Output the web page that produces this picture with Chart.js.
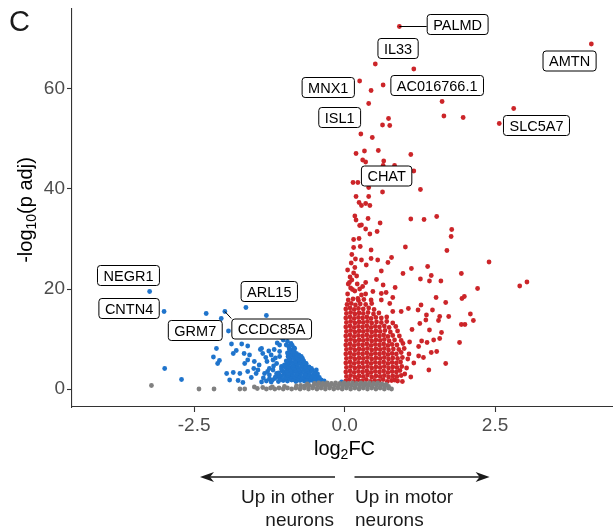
<!DOCTYPE html>
<html>
<head>
<meta charset="utf-8">
<script src="https://cdn.jsdelivr.net/npm/chart.js@4.4.0/dist/chart.umd.min.js"></script>
<style>
  html, body { margin: 0; padding: 0; background: #fff; }
</style>
</head>
<body>
<canvas id="volcano" width="613" height="527"></canvas>
<script>
const xTicks = [-2.5, 0, 2.5];
const yTicks = [0, 20, 40, 60];

// log2FC, -log10(p adj)
const upMotor = [
  [0.91,72.5],[4.10,69.0],[0.51,65.0],[1.15,64.0],[0.25,61.6],[0.64,60.8],[0.44,59.7],[0.40,57.1],
  [1.62,57.5],[2.81,56.1],[1.65,54.6],[1.97,54.3],[2.57,53.1],[0.73,54.1],[0.63,52.8],[0.75,52.7],
  [0.27,51.0],[0.46,50.3],[0.19,47.1],[0.33,47.6],[0.56,47.7],[1.10,46.9],[0.30,45.8],[0.35,45.4],
  [0.65,45.6],[0.64,44.7],[0.83,44.7],[1.15,43.6],[0.14,41.3],[0.22,41.3],[0.40,40.3],[0.63,39.4],
  [1.26,39.9],[0.19,38.5],[0.40,38.5],[0.24,37.3],[0.28,36.7],[0.35,37.1],[0.42,36.7],[0.17,34.6],
  [0.19,33.8],[0.39,34.1],[0.59,33.2],[1.10,34.0],[1.32,33.9],[1.53,34.5],[0.25,32.7],[0.28,32.8],
  [0.35,32.0],[0.42,31.0],[0.54,31.5],[1.78,31.9],[1.77,30.5],[0.15,29.9],[0.24,30.1],[0.26,28.5],
  [0.15,28.3],[1.01,28.4],[0.44,27.8],[1.70,27.7],[2.40,25.4],[2.91,20.6],[3.03,21.4],[0.12,26.9],
  [0.28,25.8],[0.44,26.1],[0.55,25.8],[0.78,26.3],[0.72,25.3],[0.36,24.8],[0.17,24.3],[0.61,23.6],
  [1.11,24.1],[1.38,24.5],[1.94,23.1],[0.97,23.1],[0.20,22.6],[0.12,21.8],[0.08,21.3],[0.35,21.3],
  [0.53,21.9],[0.64,20.8],[0.84,20.3],[1.26,22.0],[1.41,21.6],[1.44,22.7],[1.60,21.6],[2.21,20.1],
  [0.13,19.9],[0.30,20.5],[0.47,19.5],[0.61,19.1],[0.69,19.3],[0.80,18.3],[0.35,19.0],[0.22,18.1],
  [0.44,17.8],[0.61,17.8],[0.75,17.1],[1.27,16.8],[1.52,18.3],[1.68,17.3],[1.95,18.1],[1.99,18.5],
  [1.46,15.8],[1.22,15.8],[1.06,16.1],[0.94,15.5],[0.80,15.5],[2.09,15.0],[2.14,13.7],[1.94,12.9],
  [2.00,12.9],[1.73,14.5],[1.58,14.5],[1.56,13.7],[1.36,14.8],[1.35,13.8],[1.25,13.1],[1.41,11.8],
  [1.61,11.3],[1.58,10.1],[1.48,9.8],[1.37,9.3],[1.91,9.3],[1.28,9.6],[1.23,8.5],[1.53,7.5],
  [1.44,7.3],[1.31,6.3],[1.23,6.6],[1.68,5.1],[1.40,3.8],[1.00,3.0],[0.96,1.5],[0.83,1.8],
  [0.05,19.0],[0.10,20.2],[0.06,21.0],[0.17,19.6],[0.25,20.0],[0.09,22.4],[0.15,23.2],[0.21,21.0],
  [0.28,18.8],[0.05,23.8],[0.11,25.2],[0.18,26.0],[1.12,11.9],[1.08,9.4],[1.15,5.2],[1.10,2.4],
  [0.02,1.6],[0.08,1.9],[0.15,1.5],[0.22,1.8],[0.29,1.6],[0.36,1.9],[0.43,1.5],[0.50,1.7],[0.57,1.6],[0.64,1.9],[0.71,1.5],[0.78,1.7],[0.88,1.6],
  [0.03,2.5],[0.10,2.7],[0.17,2.4],[0.24,2.6],[0.31,2.5],[0.38,2.8],[0.45,2.4],[0.52,2.6],[0.59,2.5],[0.66,2.7],[0.73,2.4],[0.80,2.6],[0.87,2.5],[0.94,2.7],
  [0.02,3.4],[0.09,3.6],[0.16,3.3],[0.23,3.5],[0.30,3.4],[0.37,3.6],[0.44,3.3],[0.51,3.5],[0.58,3.4],[0.65,3.6],[0.72,3.3],[0.79,3.5],[0.86,3.4],[0.92,3.7],
  [0.03,4.3],[0.10,4.5],[0.17,4.2],[0.24,4.4],[0.31,4.3],[0.38,4.5],[0.45,4.2],[0.52,4.4],[0.59,4.3],[0.66,4.5],[0.73,4.2],[0.80,4.4],[0.87,4.3],[0.95,4.5],[1.03,4.2],
  [0.02,5.2],[0.09,5.4],[0.16,5.1],[0.23,5.3],[0.30,5.2],[0.37,5.4],[0.44,5.1],[0.51,5.3],[0.58,5.2],[0.65,5.4],[0.72,5.1],[0.79,5.3],[0.86,5.2],[0.93,5.4],
  [0.03,6.1],[0.10,6.3],[0.17,6.0],[0.24,6.2],[0.31,6.1],[0.38,6.3],[0.45,6.0],[0.52,6.2],[0.59,6.1],[0.66,6.3],[0.73,6.0],[0.80,6.2],[0.88,6.1],[0.96,6.3],[1.05,6.0],
  [0.02,7.0],[0.09,7.2],[0.16,6.9],[0.23,7.1],[0.30,7.0],[0.37,7.2],[0.44,6.9],[0.51,7.1],[0.58,7.0],[0.65,7.2],[0.72,6.9],[0.79,7.1],[0.86,7.0],[0.94,7.3],[1.07,7.0],
  [0.03,7.9],[0.10,8.1],[0.17,7.8],[0.24,8.0],[0.31,7.9],[0.38,8.1],[0.45,7.8],[0.52,8.0],[0.59,7.9],[0.66,8.1],[0.73,7.8],[0.81,8.0],[0.90,7.9],[0.99,8.1],
  [0.02,8.8],[0.09,9.0],[0.16,8.7],[0.23,8.9],[0.30,8.8],[0.37,9.0],[0.44,8.7],[0.51,8.9],[0.58,8.8],[0.65,9.0],[0.72,8.7],[0.79,8.9],[0.87,8.8],[0.97,9.1],
  [0.03,9.7],[0.10,9.9],[0.17,9.6],[0.24,9.8],[0.31,9.7],[0.38,9.9],[0.45,9.6],[0.52,9.8],[0.59,9.7],[0.66,9.9],[0.74,9.6],[0.83,9.8],[0.94,9.7],
  [0.02,10.6],[0.09,10.8],[0.16,10.5],[0.23,10.7],[0.30,10.6],[0.37,10.8],[0.44,10.5],[0.51,10.7],[0.58,10.6],[0.65,10.8],[0.72,10.5],[0.80,10.7],[0.91,10.6],
  [0.03,11.5],[0.10,11.7],[0.17,11.4],[0.24,11.6],[0.31,11.5],[0.38,11.7],[0.45,11.4],[0.52,11.6],[0.59,11.5],[0.67,11.7],[0.76,11.4],[0.88,11.6],
  [0.02,12.4],[0.09,12.6],[0.16,12.3],[0.23,12.5],[0.30,12.4],[0.37,12.6],[0.44,12.3],[0.51,12.5],[0.58,12.4],[0.66,12.6],[0.74,12.3],[0.85,12.5],
  [0.03,13.3],[0.10,13.5],[0.17,13.2],[0.24,13.4],[0.31,13.3],[0.38,13.5],[0.45,13.2],[0.53,13.4],[0.61,13.3],[0.70,13.5],[0.80,13.2],
  [0.02,14.2],[0.09,14.4],[0.16,14.1],[0.23,14.3],[0.30,14.2],[0.37,14.4],[0.44,14.1],[0.52,14.3],[0.61,14.2],[0.70,14.4],
  [0.03,15.1],[0.10,15.3],[0.17,15.0],[0.24,15.2],[0.31,15.1],[0.39,15.3],[0.48,15.0],[0.57,15.2],
  [0.02,16.0],[0.09,16.2],[0.16,15.9],[0.23,16.1],[0.31,16.0],[0.40,16.2],[0.49,15.9],
  [0.04,16.9],[0.11,17.1],[0.18,16.8],[0.26,17.0],[0.35,16.9],[0.45,17.1],
  [0.06,17.8],[0.14,18.0],[0.23,17.7],[0.32,17.9]
];

const upOther = [
  [-3.24,19.5],[-3.00,15.5],[-2.30,15.1],[-1.99,15.5],[-2.05,14.1],[-1.64,16.3],[-1.30,14.7],[-1.93,11.6],
  [-2.99,4.1],[-2.71,1.9],[-2.13,8.1],[-2.18,6.4],[-2.11,5.1],[-1.88,9.0],[-1.71,9.0],[-1.61,8.6],
  [-1.80,7.7],[-1.67,7.1],[-1.85,7.1],[-1.58,6.8],[-2.08,5.7],[-1.61,5.8],[-1.40,7.9],[-1.36,7.1],
  [-1.31,6.3],[-1.29,5.5],[-1.42,4.8],[-1.51,4.1],[-1.61,3.5],[-1.74,3.1],[-1.85,3.3],[-1.96,3.1],
  [-1.91,1.8],[-1.77,1.7],[-1.69,1.3],[-1.55,2.3],[-1.47,3.1],[-1.08,8.8],[-1.02,9.8],[-0.97,10.6],
  [-0.89,9.1],[-0.83,8.1],[-1.08,7.5],[-0.94,6.5],[-1.13,5.1],[-1.05,4.5],[-1.19,3.8],[-1.25,2.8],
  [-1.13,2.5],[-1.38,8.1],[-1.22,6.8],[-1.19,5.8],[-1.08,6.5],[-0.97,8.8],[-0.86,7.8],[-0.80,6.8],
  [-0.75,5.5],[-0.69,4.5],[-0.64,5.1],[-0.58,3.8],[-0.47,3.8],[-0.46,2.5],[-1.66,5.1],[-1.50,5.5],
  [-1.44,3.8],[-1.33,3.1],[-1.25,4.1],[-1.13,3.1],[-1.08,2.1],[-0.97,3.1],[-0.91,4.1],[-0.86,2.5],
  [-0.78,1.8],[-0.66,2.1],[-0.58,1.8],[-0.50,1.5],[-0.39,1.8],[-1.38,1.4],[-1.22,1.4],[-0.05,1.4],
  [-1.35,2.2],[-1.28,3.5],[-1.18,4.6],[-1.15,6.2],[-1.26,7.6],[-1.17,7.9],[-1.12,9.2],[-1.05,10.3],[-0.99,11.2],
  [-1.30,1.6],[-1.20,1.8],[-1.10,1.5],[-1.02,1.7],[-0.95,1.6],[-0.88,1.8],[-0.81,1.5],[-0.74,1.7],[-0.67,1.6],[-0.60,1.5],[-0.53,1.7],[-0.46,1.6],[-0.40,1.5],[-0.34,1.6],
  [-1.25,2.0],[-1.16,2.1],[-1.06,1.9],[-0.99,2.0],[-0.92,2.1],[-0.85,1.9],[-0.78,2.2],[-0.71,2.0],[-0.64,1.9],[-0.57,2.1],[-0.50,2.0],[-0.44,2.1],
  [-1.15,2.4],[-1.05,2.6],[-0.98,2.3],[-0.90,2.5],[-0.83,2.4],[-0.76,2.6],[-0.69,2.3],[-0.62,2.5],[-0.55,2.4],[-0.48,2.6],[-0.42,2.3],
  [-1.09,2.8],[-1.01,2.9],[-0.94,2.8],[-0.87,2.9],[-0.80,2.8],[-0.73,3.0],[-0.66,2.8],[-0.59,2.9],[-0.52,2.8],[-0.45,3.0],
  [-1.10,3.2],[-1.00,3.4],[-0.93,3.1],[-0.86,3.3],[-0.79,3.2],[-0.72,3.4],[-0.65,3.1],[-0.58,3.3],[-0.50,3.2],
  [-1.04,3.6],[-0.96,3.7],[-0.89,3.6],[-0.82,3.8],[-0.75,3.6],[-0.68,3.7],[-0.61,3.6],[-0.54,3.7],
  [-1.05,4.0],[-0.97,4.2],[-0.90,3.9],[-0.83,4.1],[-0.76,4.0],[-0.69,4.2],[-0.62,3.9],[-0.55,4.1],
  [-0.99,4.4],[-0.93,4.5],[-0.86,4.4],[-0.79,4.6],[-0.72,4.4],[-0.65,4.5],[-0.59,4.4],
  [-1.00,4.8],[-0.92,5.0],[-0.85,4.7],[-0.78,4.9],[-0.71,4.8],[-0.64,5.0],
  [-0.95,5.2],[-0.88,5.3],[-0.81,5.2],[-0.74,5.3],[-0.67,5.2],
  [-0.97,5.6],[-0.90,5.8],[-0.82,5.5],[-0.75,5.7],[-0.68,5.6],
  [-0.91,6.0],[-0.84,6.1],[-0.77,6.0],[-0.70,6.1],
  [-0.93,6.4],[-0.86,6.6],[-0.79,6.3],[-0.72,6.5],
  [-0.90,6.8],[-0.83,6.9],[-0.76,6.8],
  [-0.95,7.2],[-0.88,7.4],[-0.80,7.1],[-0.91,7.6],[-0.84,7.7],[-0.92,8.0],[-0.84,8.2],
  [-0.93,8.6],[-0.87,8.7],[-0.95,9.5]
];

const notSig = [
  [-3.21,0.7],[-2.42,0.0],[-2.17,0.0],[-1.74,0.0],[-1.66,0.0],[-1.50,0.4],[-1.45,0.1],[-1.36,0.3],
  [-1.30,0.0],[-1.23,0.2],[-1.16,0.0],[-1.09,0.2],[-1.02,0.0],[-0.95,0.2],[-0.88,0.0],[-0.81,0.2],
  [-0.74,0.0],[-0.67,0.2],[-0.60,0.0],[-0.53,0.2],[-0.46,0.0],[-0.39,0.2],[-0.32,0.0],[-0.25,0.2],
  [-0.18,0.0],[-0.11,0.2],[-0.04,0.0],[0.03,0.2],[0.10,0.0],[0.17,0.2],[0.24,0.0],[0.31,0.2],
  [0.38,0.0],[0.45,0.2],[0.52,0.0],[0.59,0.2],[0.66,0.0],[0.73,0.2],[0.78,0.0],
  [-1.20,0.4],[-1.00,0.5],[-0.80,0.6],[-0.73,0.7],[-0.66,0.6],[-0.59,0.7],[-0.52,0.6],[-0.45,0.7],
  [-0.38,0.6],[-0.31,0.7],[-0.24,0.6],[-0.17,0.7],[-0.10,0.6],[-0.03,0.7],[0.04,0.6],[0.11,0.7],
  [0.18,0.6],[0.25,0.7],[0.32,0.6],[0.39,0.7],[0.46,0.6],[0.53,0.7],[0.60,0.6],[0.67,0.7],[0.73,0.5],
  [-0.50,1.1],[-0.43,1.2],[-0.36,1.1],[-0.29,1.2],[-0.22,1.1],[-0.15,1.2],[-0.08,1.1],[-0.01,1.2],
  [0.06,1.1],[0.13,1.2],[0.20,1.1],[0.27,1.2],[0.34,1.1],[0.41,1.2],[0.48,1.1],[0.55,1.2],[0.62,1.0],
  [-0.62,1.0],[0.69,0.9]
];

// ggrepel-style labels: box centre and, where drawn, the point it points to
const labelNames = ['PALMD','IL33','AMTN','MNX1','AC016766.1','ISL1','SLC5A7','CHAT','NEGR1','CNTN4','GRM7','ARL15','CCDC85A'];
const labelBoxX = [1.87, 0.88, 3.73, -0.28, 1.53, -0.09, 3.18, 0.69, -3.60, -3.59, -2.49, -1.26, -1.22];
const labelBoxY = [73.0, 68.2, 65.7, 60.4, 60.8, 54.4, 52.8, 42.7, 22.8, 16.2, 11.8, 19.6, 12.1];
const labelLinkX = [0.91, null, null, null, null, null, null, null, null, null, null, null, -1.99];
const labelLinkY = [72.5, null, null, null, null, null, null, null, null, null, null, null, 15.5];

const FONT = "'Liberation Sans', Arial, Helvetica, sans-serif";
const toPts = arr => arr.map(([x, y]) => ({ x, y }));

const labelPlugin = {
  id: 'geneLabels',
  afterDatasetsDraw(chart) {
    const { ctx, scales: { x, y } } = chart;
    ctx.save();
    ctx.font = '14.5px ' + FONT;
    labelNames.forEach((name, i) => {
      const cx = x.getPixelForValue(labelBoxX[i]);
      const cy = y.getPixelForValue(labelBoxY[i]);
      const w = ctx.measureText(name).width + 12;
      const h = 20;
      const left = cx - w / 2, top = cy - h / 2;
      if (labelLinkX[i] !== null) {
        const px = x.getPixelForValue(labelLinkX[i]);
        const py = y.getPixelForValue(labelLinkY[i]);
        const ex = Math.min(Math.max(px, left), left + w);
        const ey = Math.min(Math.max(py, top), top + h);
        ctx.strokeStyle = '#000';
        ctx.lineWidth = 1;
        ctx.beginPath();
        ctx.moveTo(px, py);
        ctx.lineTo(ex, ey);
        ctx.stroke();
      }
      ctx.beginPath();
      ctx.roundRect(left + 0.5, top + 0.5, w, h, 3);
      ctx.fillStyle = '#fff';
      ctx.fill();
      ctx.strokeStyle = '#000';
      ctx.lineWidth = 1;
      ctx.stroke();
      ctx.fillStyle = '#000';
      ctx.textAlign = 'center';
      ctx.textBaseline = 'middle';
      ctx.fillText(name, cx + 0.5, cy + 1.5);
    });
    ctx.restore();
  }
};

function drawSubText(ctx, parts, x0, y0) {
  // parts: [text, size, dy]
  let total = 0;
  parts.forEach(p => { ctx.font = p[1] + 'px ' + FONT; total += ctx.measureText(p[0]).width; });
  let cx = x0 - total / 2;
  parts.forEach(p => {
    ctx.font = p[1] + 'px ' + FONT;
    ctx.fillText(p[0], cx, y0 + p[2]);
    cx += ctx.measureText(p[0]).width;
  });
}

function arrow(ctx, x1, x2, yy) {
  const dir = Math.sign(x2 - x1);
  ctx.beginPath();
  ctx.moveTo(x1, yy);
  ctx.lineTo(x2 - dir * 6, yy);
  ctx.stroke();
  ctx.beginPath();
  ctx.moveTo(x2, yy);
  ctx.lineTo(x2 - dir * 14, yy - 5);
  ctx.lineTo(x2 - dir * 10, yy);
  ctx.lineTo(x2 - dir * 14, yy + 5);
  ctx.closePath();
  ctx.fill();
}

const decorPlugin = {
  id: 'decor',
  afterDraw(chart) {
    const { ctx } = chart;
    ctx.save();
    ctx.fillStyle = '#1a1a1a';
    ctx.textBaseline = 'alphabetic';
    ctx.textAlign = 'left';
    ctx.font = '29px ' + FONT;
    ctx.fillText('C', 9, 31);

    ctx.fillStyle = '#000';
    drawSubText(ctx, [['log', 20, 0], ['2', 14, 4], ['FC', 20, 0]], 344.5, 455);

    ctx.save();
    ctx.translate(32, 210);
    ctx.rotate(-Math.PI / 2);
    drawSubText(ctx, [['-log', 20, 0], ['10', 14, 4], ['(p adj)', 20, 0]], 0, 0);
    ctx.restore();

    ctx.strokeStyle = '#1a1a1a';
    ctx.fillStyle = '#1a1a1a';
    ctx.lineWidth = 1.3;
    arrow(ctx, 335, 200, 477);
    arrow(ctx, 354.5, 489.6, 477);

    ctx.font = '19px ' + FONT;
    ctx.textAlign = 'right';
    ctx.fillText('Up in other', 334, 503);
    ctx.fillText('neurons', 334, 526);
    ctx.textAlign = 'left';
    ctx.fillText('Up in motor', 355, 503);
    ctx.fillText('neurons', 355, 526);
    ctx.restore();
  }
};

const axisStyle = {
  grid: { drawOnChartArea: false, drawTicks: true, tickLength: 5, color: '#333', tickWidth: 1.1 },
  border: { display: true, color: '#333', width: 1.1 }
};

new Chart(document.getElementById('volcano'), {
  type: 'scatter',
  data: {
    datasets: [
      { label: 'Up in motor neurons', data: toPts(upMotor), backgroundColor: '#cc2529', order: 2 },
      { label: 'Up in other neurons', data: toPts(upOther), backgroundColor: '#1f74cc', order: 2 },
      { label: 'n.s.', data: toPts(notSig), backgroundColor: '#808080', order: 1 }
    ]
  },
  options: {
    responsive: false,
    animation: false,
    devicePixelRatio: 1,
    layout: { autoPadding: false, padding: { top: 9, right: 0, bottom: 0, left: 0 } },
    elements: { point: { radius: 2.4, borderWidth: 0, hoverRadius: 2.4 } },
    plugins: { legend: { display: false }, tooltip: { enabled: false } },
    scales: {
      x: {
        type: 'linear', min: -4.53, max: 4.46,
        afterBuildTicks: s => { s.ticks = xTicks.map(v => ({ value: v })); },
        afterFit: s => { s.height = 120; s.paddingLeft = 0; s.paddingRight = 0; },
        ...axisStyle,
        ticks: { color: '#4d4d4d', font: { family: FONT, size: 19 }, padding: 2, maxRotation: 0, autoSkip: false,
                 callback: v => v.toFixed(1) }
      },
      y: {
        type: 'linear', min: -3.6, max: 76,
        afterBuildTicks: s => { s.ticks = yTicks.map(v => ({ value: v })); },
        afterFit: s => { s.width = 72; s.paddingTop = 0; s.paddingBottom = 0; },
        ...axisStyle,
        ticks: { color: '#4d4d4d', font: { family: FONT, size: 19 }, padding: 2, callback: v => String(v) }
      }
    }
  },
  plugins: [labelPlugin, decorPlugin]
});
</script>
</body>
</html>
